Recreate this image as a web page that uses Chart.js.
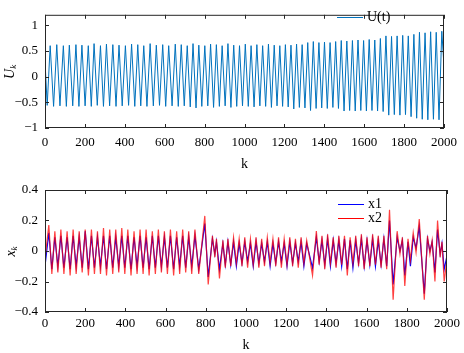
<!DOCTYPE html>
<html>
<head>
<meta charset="utf-8">
<script src="https://cdn.jsdelivr.net/npm/chart.js@4/dist/chart.umd.min.js"></script>
<style>
body { margin: 0; background: #fff; }
.panel { position: relative; width: 464px; }
</style>
</head>
<body>
<div class="panel" style="height:175px"><canvas id="u_chart"></canvas></div>
<div class="panel" style="height:178px"><canvas id="x_chart"></canvas></div>
<script>
const u_edge_k = [0, 2000];
const u_edge = [0.3, 0.2];

const u_trough_k = [11, 43, 75, 107, 139, 170, 201, 232, 262, 293,
	324, 356, 387, 419, 450, 480, 511, 543, 574, 605,
	637, 668, 698, 728, 757, 786, 816, 845, 874, 903,
	932, 961, 990, 1019, 1048, 1077, 1106, 1135, 1163, 1191,
	1219, 1247, 1275, 1303, 1331, 1359, 1387, 1415, 1443, 1471,
	1499, 1527, 1555, 1583, 1611, 1639, 1667, 1695, 1723, 1751,
	1779, 1807, 1835, 1863, 1891, 1919, 1947, 1975];
const u_trough = [-0.56, -0.58, -0.57, -0.58, -0.57, -0.58, -0.57, -0.58, -0.56, -0.58,
	-0.57, -0.58, -0.57, -0.56, -0.58, -0.57, -0.58, -0.57, -0.56, -0.58,
	-0.57, -0.58, -0.57, -0.59, -0.61, -0.58, -0.57, -0.6, -0.58, -0.57,
	-0.6, -0.58, -0.57, -0.58, -0.59, -0.57, -0.58, -0.6, -0.57, -0.58,
	-0.59, -0.63, -0.6, -0.61, -0.66, -0.62, -0.61, -0.62, -0.6, -0.62,
	-0.67, -0.66, -0.67, -0.66, -0.67, -0.66, -0.67, -0.68, -0.75, -0.74,
	-0.75, -0.74, -0.78, -0.81, -0.83, -0.84, -0.83, -0.84];

const u_peak_k = [26, 59, 92, 122, 155, 185, 217, 246, 278, 308,
	340, 371, 403, 434, 465, 495, 527, 558, 590, 620,
	653, 683, 713, 742, 771, 801, 830, 859, 888, 917,
	946, 975, 1004, 1033, 1062, 1091, 1120, 1149, 1177, 1205,
	1233, 1261, 1289, 1317, 1345, 1373, 1401, 1429, 1457, 1485,
	1513, 1541, 1569, 1597, 1625, 1653, 1681, 1709, 1737, 1765,
	1793, 1821, 1849, 1877, 1905, 1933, 1961, 1989];
const u_peak = [0.6, 0.62, 0.6, 0.61, 0.62, 0.61, 0.6, 0.64, 0.6, 0.63,
	0.62, 0.61, 0.6, 0.63, 0.62, 0.6, 0.64, 0.61, 0.62, 0.6,
	0.63, 0.62, 0.6, 0.64, 0.61, 0.6, 0.63, 0.62, 0.6, 0.64,
	0.61, 0.6, 0.63, 0.6, 0.62, 0.6, 0.63, 0.61, 0.6, 0.62,
	0.61, 0.63, 0.62, 0.66, 0.68, 0.66, 0.67, 0.66, 0.68, 0.7,
	0.69, 0.7, 0.71, 0.7, 0.72, 0.71, 0.74, 0.79, 0.78, 0.79,
	0.8, 0.79, 0.82, 0.86, 0.85, 0.87, 0.86, 0.88];

// x1, x2 : turning points
const x_k = [0, 19, 34, 49, 64, 79, 94, 110, 125, 140, 155,
	170, 185, 200, 216, 231, 246, 261, 276, 291, 306,
	322, 337, 352, 367, 382, 397, 412, 428, 443, 458,
	473, 488, 503, 518, 534, 549, 564, 579, 594, 609,
	624, 640, 655, 670, 685, 700, 715, 730, 746, 765,
	795, 812, 833, 845, 853, 868, 885, 897,
	910, 924, 938, 952, 966, 980, 994, 1008, 1022, 1036,
	1050, 1064, 1078, 1092, 1106, 1120, 1134, 1148, 1162, 1176,
	1190, 1204, 1218, 1232, 1246, 1260, 1274, 1288, 1302, 1331, 1350,
	1364, 1378, 1392, 1406, 1420, 1434, 1448, 1462, 1476, 1490,
	1504, 1518, 1532, 1546, 1560, 1574, 1588, 1602, 1616, 1630,
	1644, 1658, 1672, 1686, 1700,
	1714, 1732, 1752, 1766, 1778, 1790, 1806, 1818, 1832, 1846,
	1862, 1887, 1903, 1915, 1926, 1940, 1953, 1966, 1975, 1986, 2000];

const x1_values = [-0.1, 0.12, -0.12, 0.09, -0.1, 0.1, -0.11, 0.09, -0.12, 0.1, -0.1,
	0.09, -0.11, 0.13, -0.12, 0.1, -0.11, 0.09, -0.1, 0.1, -0.12,
	0.1, -0.11, 0.09, -0.1, 0.1, -0.11, 0.1, -0.12, 0.09, -0.1,
	0.1, -0.11, 0.09, -0.12, 0.1, -0.11, 0.1, -0.1, 0.09, -0.11,
	0.1, -0.12, 0.09, -0.1, 0.1, -0.11, 0.09, -0.1, 0.1, -0.12,
	0.18, -0.17, 0.08, -0.02, 0.06, -0.12, 0.05, -0.09,
	0.06, -0.09, 0.06, -0.1, 0.05, -0.08, 0.06, -0.07, 0.05, -0.1,
	0.06, -0.08, 0.05, -0.07, 0.06, -0.1, 0.05, -0.08, 0.06, -0.07,
	0.05, -0.1, 0.06, -0.08, 0.05, -0.07, 0.06, -0.1, 0.05, -0.11, 0.09,
	-0.07, 0.07, -0.09, 0.08, -0.1, 0.07, -0.08, 0.07, -0.1, 0.08,
	-0.12, 0.07, -0.11, 0.07, -0.08, 0.08, -0.1, 0.07, -0.09, 0.08,
	-0.1, 0.07, -0.09, 0.08, -0.1,
	0.2, -0.22, 0.09, 0.0, 0.07, -0.16, 0.06, -0.1, 0.09, 0.02,
	0.16, -0.28, 0.08, 0.0, 0.06, -0.14, 0.14, -0.02, 0.05, -0.12, -0.03];

const x2_values = [-0.05, 0.17, -0.15, 0.13, -0.14, 0.14, -0.15, 0.13, -0.16, 0.14, -0.15,
	0.13, -0.14, 0.14, -0.16, 0.14, -0.15, 0.13, -0.15, 0.15, -0.16,
	0.14, -0.15, 0.14, -0.14, 0.15, -0.15, 0.14, -0.16, 0.13, -0.15,
	0.14, -0.15, 0.14, -0.16, 0.13, -0.15, 0.14, -0.14, 0.13, -0.15,
	0.14, -0.16, 0.13, -0.15, 0.14, -0.14, 0.13, -0.15, 0.14, -0.15,
	0.23, -0.22, 0.1, -0.04, 0.08, -0.18, 0.07, -0.11,
	0.08, -0.1, 0.09, -0.08, 0.08, -0.1, 0.09, -0.11, 0.08, -0.09,
	0.09, -0.11, 0.08, -0.1, 0.09, -0.08, 0.08, -0.1, 0.09, -0.11,
	0.08, -0.09, 0.09, -0.1, 0.08, -0.11, 0.09, -0.08, 0.07, -0.16, 0.13,
	-0.09, 0.1, -0.12, 0.11, -0.08, 0.09, -0.11, 0.1, -0.09, 0.1,
	-0.16, 0.09, -0.08, 0.1, -0.1, 0.11, -0.12, 0.09, -0.1, 0.11,
	-0.09, 0.1, -0.11, 0.1, -0.12,
	0.27, -0.32, 0.13, -0.02, 0.09, -0.23, 0.08, -0.06, 0.12, -0.01,
	0.21, -0.32, 0.1, -0.02, 0.07, -0.2, 0.2, -0.04, 0.06, -0.2, -0.05];

// BUILD POINTS
let u_points = [];
u_edge_k.forEach((k, i) => u_points.push({x: k, y: u_edge[i]}));
u_trough_k.forEach((k, i) => u_points.push({x: k, y: u_trough[i]}));
u_peak_k.forEach((k, i) => u_points.push({x: k, y: u_peak[i]}));
u_points.sort((a, b) => a.x - b.x);

const x1_points = x_k.map((k, i) => ({x: k, y: x1_values[i]}));
const x2_points = x_k.map((k, i) => ({x: k, y: x2_values[i]}));

const FONT = '"Liberation Serif", "DejaVu Serif", serif';
const AXIS_COLOR = '#262626';

function fmt(v){
	let s = String(Math.round(v * 10) / 10);
	return s.replace('-', '\u2212');
}

// box, inward ticks, axis titles and legend, MATLAB style
const matlabBox = {
	id: 'matlabBox',
	afterDraw(chart, args, opts){
		const ctx = chart.ctx;
		const a = chart.chartArea;
		const xs = chart.scales.x, ys = chart.scales.y;
		ctx.save();
		ctx.strokeStyle = AXIS_COLOR;
		ctx.lineWidth = 1;
		ctx.strokeRect(a.left + 0.5, a.top + 0.5, a.right - a.left - 1, a.bottom - a.top - 1);

		ctx.beginPath();
		xs.ticks.forEach(t => {
			let px = Math.round(xs.getPixelForValue(t.value)) + 0.5;
			ctx.moveTo(px, a.bottom); ctx.lineTo(px, a.bottom - 4);
			ctx.moveTo(px, a.top); ctx.lineTo(px, a.top + 4);
		});
		ys.ticks.forEach(t => {
			let py = Math.round(ys.getPixelForValue(t.value)) + 0.5;
			ctx.moveTo(a.left, py); ctx.lineTo(a.left + 4, py);
			ctx.moveTo(a.right, py); ctx.lineTo(a.right - 4, py);
		});
		ctx.stroke();

		// x title
		ctx.fillStyle = '#000';
		ctx.font = '14px ' + FONT;
		ctx.textAlign = 'center';
		ctx.textBaseline = 'middle';
		ctx.fillText('k', (a.left + a.right) / 2, a.bottom + opts.xTitleGap);

		// y title, rotated, with subscript k
		ctx.save();
		ctx.translate(opts.yTitleX, (a.top + a.bottom) / 2);
		ctx.rotate(-Math.PI / 2);
		ctx.font = 'italic 14px ' + FONT;
		let w = ctx.measureText(opts.yTitle).width;
		let wk = 5;
		ctx.textAlign = 'left';
		ctx.fillText(opts.yTitle, -(w + wk) / 2, 0);
		ctx.font = 'italic 9px ' + FONT;
		ctx.fillText('k', -(w + wk) / 2 + w, 4);
		ctx.restore();

		// legend
		ctx.font = '14px ' + FONT;
		ctx.textAlign = 'left';
		chart.data.datasets.forEach((ds, i) => {
			let y = opts.legendY + i * opts.legendStep;
			ctx.strokeStyle = ds.legendColor || ds.borderColor;
			ctx.lineWidth = 1;
			ctx.beginPath();
			ctx.moveTo(opts.legendX, y + 0.5);
			ctx.lineTo(opts.legendX + 26, y + 0.5);
			ctx.stroke();
			ctx.fillStyle = '#000';
			ctx.fillText(ds.label, opts.legendX + 30, y);
		});
		ctx.restore();
	}
};

function axisOptions(yMin, yMax, yStep, xPad, xHeight){
	return {
		x: {
			type: 'linear', min: 0, max: 2000,
			grid: {display: false, drawTicks: false},
			border: {display: false},
			ticks: {stepSize: 200, padding: xPad, color: '#000',
				font: {family: FONT, size: 13}, callback: v => String(v)},
			afterFit: s => { s.height = xHeight; }
		},
		y: {
			type: 'linear', min: yMin, max: yMax,
			grid: {display: false, drawTicks: false},
			border: {display: false},
			ticks: {stepSize: yStep, includeBounds: false, padding: 7, color: '#000',
				font: {family: FONT, size: 13}, callback: v => fmt(v)},
			afterFit: s => { s.width = 45; }
		}
	};
}

// TOP CHART
const u_ctx = document.getElementById('u_chart').getContext('2d');
new Chart(u_ctx, {
	type: 'line',
	data: {
		datasets: [{
			label: 'U(t)',
			data: u_points,
			borderColor: '#0072bd',
			legendColor: '#0072bd',
			borderWidth: 1,
			pointRadius: 0,
			tension: 0,
			fill: false
		}]
	},
	options: {
		responsive: true,
		maintainAspectRatio: false,
		animation: false,
		events: [],
		layout: {padding: {top: 4, right: 16, left: 0, bottom: 0}},
		scales: axisOptions(-1, 1.2, 0.5, 7, 47),
		plugins: {
			legend: {display: false},
			tooltip: {enabled: false},
			matlabBox: {xTitleGap: 36, yTitleX: 10, yTitle: 'U', legendX: 337, legendY: 17, legendStep: 0}
		}
	},
	plugins: [matlabBox]
});

// BOTTOM CHART
const x_ctx = document.getElementById('x_chart').getContext('2d');
new Chart(x_ctx, {
	type: 'line',
	data: {
		datasets: [{
			label: 'x1',
			data: x1_points,
			borderColor: '#0000ff',
			legendColor: '#0000ff',
			borderWidth: 1.2,
			pointRadius: 0,
			tension: 0,
			fill: false,
			order: 1
		},{
			label: 'x2',
			data: x2_points,
			borderColor: 'rgba(255,0,0,0.75)',
			legendColor: '#ff0000',
			borderWidth: 1.2,
			pointRadius: 0,
			tension: 0,
			fill: false,
			order: 0
		}]
	},
	options: {
		responsive: true,
		maintainAspectRatio: false,
		animation: false,
		events: [],
		layout: {padding: {top: 15, right: 16, left: 0, bottom: 0}},
		scales: axisOptions(-0.4, 0.4, 0.2, 4, 41),
		plugins: {
			legend: {display: false},
			tooltip: {enabled: false},
			matlabBox: {xTitleGap: 33, yTitleX: 11, yTitle: 'x', legendX: 338, legendY: 29, legendStep: 14}
		}
	},
	plugins: [matlabBox]
});
</script>
</body>
</html>
